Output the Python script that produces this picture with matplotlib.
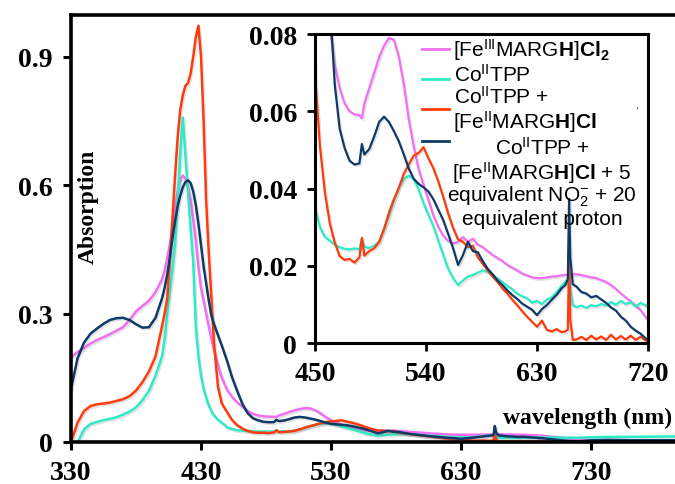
import matplotlib.pyplot as plt
import matplotlib.patheffects as pe

plt.rcParams['mathtext.fontset'] = 'custom'
plt.rcParams['mathtext.rm'] = 'Liberation Sans'
plt.rcParams['mathtext.it'] = 'Liberation Sans:italic'
plt.rcParams['mathtext.bf'] = 'Liberation Sans:bold'

######################################
### DATA #############################
######################################
# wavelength grid (nm), finer around the Soret band and the 656 nm line
wavelength = [330, 335, 340, 345, 350, 355, 360, 365, 370, 375, 380, 385, 390, 395, 400,
              402, 404, 406, 408, 410, 412, 414, 416, 418, 420, 422, 424, 426, 428, 430,
              432, 434, 436, 438, 440,
              443, 446,
              450, 454, 458, 462, 466, 470, 474, 478, 482, 486, 488, 490, 494, 498, 502,
              506, 510, 514, 518, 522, 526, 530, 534, 538, 542, 546, 550, 554, 558, 562,
              566, 570, 574, 578, 582, 586, 590, 594, 598, 602, 606, 610, 614, 618, 622,
              626, 630, 634, 638, 642, 646, 650,
              653, 655, 656, 657, 659,
              662, 666, 670, 674, 678, 682, 686, 690, 694, 698, 702, 706, 710, 714, 718,
              720, 730, 745, 760, 775, 790, 800]

fe3_margh = [0.198, 0.210, 0.220, 0.230, 0.238, 0.245, 0.252, 0.260, 0.268, 0.285, 0.305, 0.318, 0.330, 0.350, 0.380,
             0.400, 0.430, 0.460, 0.500, 0.545, 0.585, 0.612, 0.622, 0.615, 0.595, 0.565, 0.520, 0.470, 0.410, 0.360,
             0.330, 0.300, 0.270, 0.240, 0.215,
             0.180, 0.150,
             0.122, 0.105, 0.092, 0.082, 0.072, 0.066, 0.062, 0.0600, 0.0592, 0.0590, 0.0582, 0.0620, 0.0660, 0.0700, 0.0740,
             0.0770, 0.0790, 0.0785, 0.0740, 0.0670, 0.0580, 0.0510, 0.0450, 0.0410, 0.0370, 0.0330, 0.0300, 0.0278, 0.0264, 0.0258,
             0.0262, 0.0274, 0.0262, 0.0270, 0.0255, 0.0248, 0.0238, 0.0228, 0.0220, 0.0212, 0.0202, 0.0195, 0.0188, 0.0180, 0.0175,
             0.0170, 0.0168, 0.0168, 0.0170, 0.0172, 0.0173, 0.0175,
             0.0176, 0.0177, 0.0178, 0.0178, 0.0178,
             0.0178, 0.0176, 0.0173, 0.0170, 0.0168, 0.0163, 0.0158, 0.0150, 0.0140, 0.0128, 0.0118, 0.0108, 0.0097, 0.0085, 0.0068,
             0.0058, 0.0045, 0.0035, 0.0030, 0.0030, 0.0030, 0.0030]

co_tpp = [-0.030, -0.002, 0.030, 0.042, 0.047, 0.051, 0.054, 0.058, 0.064, 0.071, 0.081, 0.098, 0.120, 0.155, 0.200,
          0.240, 0.300, 0.350, 0.400, 0.460, 0.560, 0.670, 0.758, 0.670, 0.580, 0.500, 0.420, 0.270, 0.200, 0.155,
          0.125, 0.103, 0.085, 0.072, 0.062,
          0.052, 0.045,
          0.0350, 0.0300, 0.0275, 0.0265, 0.0255, 0.0248, 0.0244, 0.0242, 0.0245, 0.0243, 0.0270, 0.0249, 0.0246, 0.0252, 0.0262,
          0.0295, 0.0330, 0.0370, 0.0403, 0.0425, 0.0433, 0.0425, 0.0398, 0.0362, 0.0332, 0.0302, 0.0265, 0.0228, 0.0192, 0.0168,
          0.0150, 0.0162, 0.0172, 0.0176, 0.0182, 0.0188, 0.0184, 0.0176, 0.0167, 0.0158, 0.0148, 0.0139, 0.0128, 0.0121, 0.0116,
          0.0104, 0.0109, 0.0101, 0.0112, 0.0118, 0.0132, 0.0148,
          0.0158, 0.0165, 0.0185, 0.0140, 0.0098,
          0.0093, 0.0097, 0.0091, 0.0098, 0.0095, 0.0101, 0.0097, 0.0106, 0.0099, 0.0109, 0.0101, 0.0106, 0.0094, 0.0104, 0.0097,
          0.0101, 0.0110, 0.0120, 0.0120, 0.0125, 0.0130, 0.0130]

co_tpp_fe2 = [0.000, 0.045, 0.072, 0.084, 0.088, 0.090, 0.092, 0.096, 0.100, 0.107, 0.120, 0.140, 0.165, 0.200, 0.270,
              0.300, 0.335, 0.420, 0.520, 0.620, 0.710, 0.775, 0.810, 0.832, 0.838, 0.860, 0.900, 0.945, 0.972, 0.900,
              0.750, 0.560, 0.440, 0.335, 0.230,
              0.130, 0.090,
              0.0700, 0.0510, 0.0390, 0.0310, 0.0260, 0.0225, 0.0215, 0.0218, 0.0208, 0.0222, 0.0272, 0.0226, 0.0238, 0.0245, 0.0262,
              0.0295, 0.0338, 0.0372, 0.0402, 0.0438, 0.0462, 0.0485, 0.0492, 0.0507, 0.0478, 0.0452, 0.0418, 0.0378, 0.0335, 0.0298,
              0.0268, 0.0262, 0.0248, 0.0252, 0.0222, 0.0205, 0.0188, 0.0172, 0.0158, 0.0141, 0.0128, 0.0112, 0.0098, 0.0082, 0.0068,
              0.0055, 0.0042, 0.0058, 0.0034, 0.0030, 0.0036, 0.0028,
              0.0030, 0.0035, 0.0225, 0.0060, 0.0008,
              0.0009, 0.0016, 0.0008, 0.0019, 0.0009, 0.0017, 0.0008, 0.0021, 0.0009, 0.0018, 0.0009, 0.0019, 0.0008, 0.0016, 0.0007,
              0.0005, 0.0020, 0.0025, 0.0025, 0.0025, 0.0025, 0.0025]

co_tpp_fe2_no2 = [0.124, 0.195, 0.232, 0.253, 0.265, 0.276, 0.285, 0.289, 0.290, 0.285, 0.275, 0.267, 0.268, 0.290, 0.335,
                  0.360, 0.390, 0.430, 0.475, 0.515, 0.550, 0.575, 0.595, 0.607, 0.611, 0.605, 0.585, 0.553, 0.510, 0.460,
                  0.410, 0.370, 0.330, 0.295, 0.275,
                  0.250, 0.225,
                  0.190, 0.150, 0.118, 0.088, 0.067, 0.0555, 0.0505, 0.0472, 0.0462, 0.0465, 0.0515, 0.0488, 0.0502, 0.0535, 0.0572,
                  0.0586, 0.0572, 0.0548, 0.0522, 0.0488, 0.0452, 0.0425, 0.0412, 0.0403, 0.0392, 0.0372, 0.0345, 0.0318, 0.0282, 0.0245,
                  0.0202, 0.0228, 0.0262, 0.0238, 0.0235, 0.0212, 0.0192, 0.0178, 0.0162, 0.0150, 0.0136, 0.0124, 0.0114, 0.0102, 0.0094,
                  0.0086, 0.0072, 0.0088, 0.0098, 0.0112, 0.0125, 0.0142,
                  0.0150, 0.0165, 0.0373, 0.0220, 0.0152,
                  0.0146, 0.0132, 0.0128, 0.0118, 0.0122, 0.0113, 0.0104, 0.0092, 0.0084, 0.0068, 0.0058, 0.0042, 0.0032, 0.0024, 0.0012,
                  0.0008, 0.0040, 0.0050, 0.0040, 0.0040, 0.0040, 0.0040]

series = [fe3_margh, co_tpp, co_tpp_fe2, co_tpp_fe2_no2]
colors = ['#F26EF2', '#2CEBC6', '#FF3A0C', '#0F3A68']

main_xticks = [330, 430, 530, 630, 730]
main_yticks = [0, 0.3, 0.6, 0.9]
inset_xticks = [450, 540, 630, 720]
inset_yticks = [0, 0.02, 0.04, 0.06, 0.08]

legend_lines = [
    [r'[Fe$^{\mathrm{III}}$MARG$\mathbf{H}$]$\mathbf{Cl}_{\mathbf{2}}$'],
    [r'Co$^{\mathrm{II}}$TPP'],
    [r'Co$^{\mathrm{II}}$TPP +', r'[Fe$^{\mathrm{II}}$MARG$\mathbf{H}$]$\mathbf{Cl}$'],
    [r'Co$^{\mathrm{II}}$TPP +', r'[Fe$^{\mathrm{II}}$MARG$\mathbf{H}$]$\mathbf{Cl}$ + 5',
     r'equivalent NO$_{2}^{-}$ + 20', 'equivalent proton'],
]

######################################
### PLOT #############################
######################################
serif_bold = dict(family='Liberation Serif', weight='bold')
shadow = [pe.SimpleLineShadow(offset=(1.0, -1.2), shadow_color='0.5', alpha=0.22),
          pe.Normal()]

fig = plt.figure(figsize=(6.75, 4.85), dpi=100)
W, H = 675, 485

# main axes, running off the right edge
ax = fig.add_axes([71 / W, 1 - 443 / H, (W - 71) / W + 0.02, (443 - 16) / H])
for ys, c in zip(series, colors):
    ax.plot(wavelength, ys, color=c, lw=1.8, path_effects=shadow)
ax.set_xlim(330, 330 + (W + 13.5 - 71) / 1.3)
ax.set_ylim(0, 0.997)
ax.set_xticks(main_xticks)
ax.set_xticklabels([str(t) for t in main_xticks], fontsize=20, **serif_bold)
ax.set_yticks(main_yticks)
ax.set_yticklabels(['0', '0.3', '0.6', '0.9'], fontsize=20, **serif_bold)
ax.tick_params(direction='out', length=6, width=2.2, pad=7)
ax.spines['right'].set_visible(False)
for s in ['left', 'bottom', 'top']:
    ax.spines[s].set_linewidth(2.6)
ax.text(88 / W, 1 - 207 / H, 'Absorption', transform=fig.transFigure, rotation=90,
        ha='center', va='center', fontsize=17, **serif_bold)
ax.text(672 / W, 1 - 418 / H, 'wavelength (nm)', transform=fig.transFigure,
        ha='right', va='center', fontsize=17, **serif_bold)

# inset: zoom on the Q-band region
ax_in = fig.add_axes([315 / W, 1 - 344 / H, (648 - 315) / W, (344 - 35) / H])
ax_in.set_facecolor('white')
for ys, c in zip(series, colors):
    ax_in.plot(wavelength, ys, color=c, lw=1.6, path_effects=shadow)
ax_in.set_xlim(450, 720)
ax_in.set_ylim(0, 0.08)
ax_in.set_xticks(inset_xticks)
ax_in.set_xticklabels([str(t) for t in inset_xticks], fontsize=20, **serif_bold)
ax_in.set_yticks(inset_yticks)
ax_in.set_yticklabels(['0', '0.02', '0.04', '0.06', '0.08'], fontsize=20, **serif_bold)
ax_in.tick_params(direction='out', length=6, width=2.0, pad=7)
for s in ax_in.spines.values():
    s.set_linewidth(2.2)

# hand-placed legend inside the inset
handle_y = [50, 80, 110, 141.7]
for hy, c in zip(handle_y, colors):
    ax_in.plot([421.7 / W, 449 / W], [1 - hy / H, 1 - hy / H], color=c, lw=2.0,
               transform=fig.transFigure, clip_on=False)

text_rows = [(453, 50, 'left'), (454, 75, 'left'), (454, 97, 'left'), (453, 122, 'left'),
             (542, 148, 'center'), (542, 173, 'center'), (542, 197, 'center'), (542, 220, 'center')]
flat_text = [t for entry in legend_lines for t in entry]
for (tx, ty, ha), txt in zip(text_rows, flat_text):
    fig.text(tx / W, 1 - ty / H, txt, ha=ha, va='center', fontsize=15,
             family='Liberation Sans')
fig.text(637 / W, 1 - 106 / H, ',', ha='center', va='center', fontsize=8,
         color='0.2', family='Liberation Sans')

fig.savefig('out.png', dpi=100)
